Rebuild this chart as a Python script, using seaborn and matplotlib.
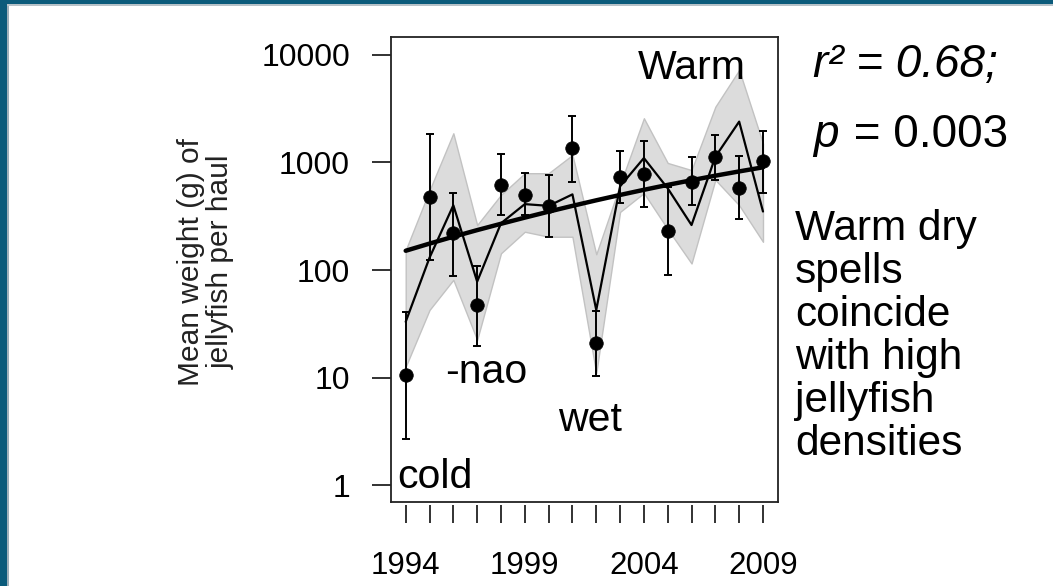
import numpy as np
import pandas as pd
import matplotlib
matplotlib.use("Agg")
import matplotlib.pyplot as plt
from matplotlib.patches import Rectangle
import seaborn as sns

sns.set_style("white")
plt.rcParams["font.family"] = ["Liberation Sans", "DejaVu Sans"]

# Survey years
years = list(range(1994, 2010))

# Observed mean jellyfish weight per haul (g) with interval bounds
mean_weight = [10.5, 480, 220, 47, 615, 500, 395, 1350, 21, 740, 780, 230, 665, 1130, 585, 1030]
err_upper = [41, 1840, 525, 110, 1190, 795, 760, 2700, 42, 1290, 1590, 590, 1120, 1820, 1150, 1980]
err_lower = [2.7, 124, 88, 19.6, 325, 324, 204, 664, 10.3, 424, 388, 90, 400, 690, 298, 525]

# Model prediction and its confidence band
model_fit = [33, 130, 400, 78, 272, 410, 395, 505, 42.5, 600, 1100, 575, 262, 1130, 2400, 350]
band_upper = [153, 550, 1870, 262, 500, 795, 795, 1175, 140, 620, 2580, 990, 850, 3300, 7250, 1500]
band_lower = [12.6, 42.5, 81, 22.4, 143, 227, 204, 204, 11, 347, 520, 240, 115, 690, 400, 183]

# Long-term trend
trend = [151, 176, 204, 235, 269, 307, 349, 395, 445, 499, 557, 619, 684, 754, 826, 902]

y_ticks = [1, 10, 100, 1000, 10000]
y_tick_labels = ["1", "10", "100", "1000", "10000"]
x_labelled = [1994, 1999, 2004, 2009]

df = pd.DataFrame({
    "year": years, "mean": mean_weight, "hi": err_upper, "lo": err_lower,
    "fit": model_fit, "band_hi": band_upper, "band_lo": band_lower, "trend": trend,
})

W, H = 1053, 586
fig = plt.figure(figsize=(W / 100, H / 100), dpi=100)
fig.patch.set_facecolor("white")

# Slide frame: dark teal strips along the left and top edges
teal = "#0b5b7b"
fig.patches.append(Rectangle((0, 0), 7 / W, 1, transform=fig.transFigure,
                             facecolor=teal, edgecolor="none", zorder=0))
fig.patches.append(Rectangle((0, 1 - 4 / H), 1, 4 / H, transform=fig.transFigure,
                             facecolor=teal, edgecolor="none", zorder=0))
fig.patches.append(Rectangle((7 / W, 0), 1.5 / W, 1 - 4 / H, transform=fig.transFigure,
                             facecolor="#9fb0ba", edgecolor="none", zorder=0))
fig.patches.append(Rectangle((7 / W, 1 - 6 / H), 1 - 7 / W, 2 / H, transform=fig.transFigure,
                             facecolor="#b7c2c8", edgecolor="none", zorder=0))

ax = fig.add_axes([391 / W, 1 - 502 / H, (778 - 391) / W, (502 - 37) / H])
ax.set_yscale("log")

ax.fill_between(df["year"], df["band_lo"], df["band_hi"], facecolor="#dcdcdc",
                edgecolor="#c2c2c2", linewidth=1.0, zorder=1)
sns.lineplot(data=df, x="year", y="fit", color="black", linewidth=1.6, ax=ax, zorder=3)
sns.lineplot(data=df, x="year", y="trend", color="black", linewidth=3.2, ax=ax, zorder=4)
ax.errorbar(df["year"], df["mean"],
            yerr=[df["mean"] - df["lo"], df["hi"] - df["mean"]],
            fmt="none", ecolor="black", elinewidth=1.4, capsize=2.6, capthick=1.4, zorder=5)
sns.scatterplot(data=df, x="year", y="mean", s=95, color="black", edgecolor="black",
                linewidth=0.5, ax=ax, zorder=6)

ax.set_xlim(1993.383, 2009.63)
ax.set_ylim(0.695, 14700)
ax.set_xlabel("")
ax.set_ylabel("")

for s in ax.spines.values():
    s.set_visible(True)
    s.set_color("#222222")
    s.set_linewidth(1.3)

ax.set_yticks(y_ticks)
ax.set_yticklabels(y_tick_labels)
ax.yaxis.set_minor_locator(matplotlib.ticker.NullLocator())
ax.tick_params(axis="y", direction="out", length=14, width=1.3, pad=15.5,
               labelsize=23, colors="#222222", labelcolor="black", left=True)
ax.tick_params(axis="x", bottom=False, labelbottom=False)

# Year ticks sit just below the box
sec = ax.secondary_xaxis(-0.0065)
sec.spines["bottom"].set_visible(False)
sec.set_xticks(years)
sec.set_xticklabels([str(y) if y in x_labelled else "" for y in years])
sec.tick_params(axis="x", direction="out", length=13, width=1.3, pad=20,
                labelsize=22.5, colors="#222222", labelcolor="black")

# Axis title, two lines rotated
fig.text(206 / W, 1 - 262 / H, "Mean weight (g) of\njellyfish per haul", rotation=90,
         ha="center", va="center", multialignment="center", fontsize=21.5,
         color="#222222", linespacing=1.05)

def px_text(x, y, s, **kw):
    fig.text(x / W, 1 - y / H, s, va="baseline", ha="left", color="black", **kw)

# Climate labels inside the panel
px_text(638, 79, "Warm", fontsize=29.5)
px_text(397, 488, "cold", fontsize=29.5)
px_text(445, 383, "-nao", fontsize=29.5)
px_text(558, 431, "wet", fontsize=29.5)

# Fit statistics
px_text(813, 77, "r\u00b2 = 0.68;", fontsize=33, style="italic")
px_text(813, 147, "p", fontsize=33, style="italic")
px_text(841, 147, " = 0.003", fontsize=33)

# Side note
note_lines = ["Warm dry", "spells", "coincide", "with high", "jellyfish", "densities"]
for i, line in enumerate(note_lines):
    px_text(795, 240 + 43 * i, line, fontsize=30.5)

fig.savefig("out.png", dpi=100, facecolor="white")
